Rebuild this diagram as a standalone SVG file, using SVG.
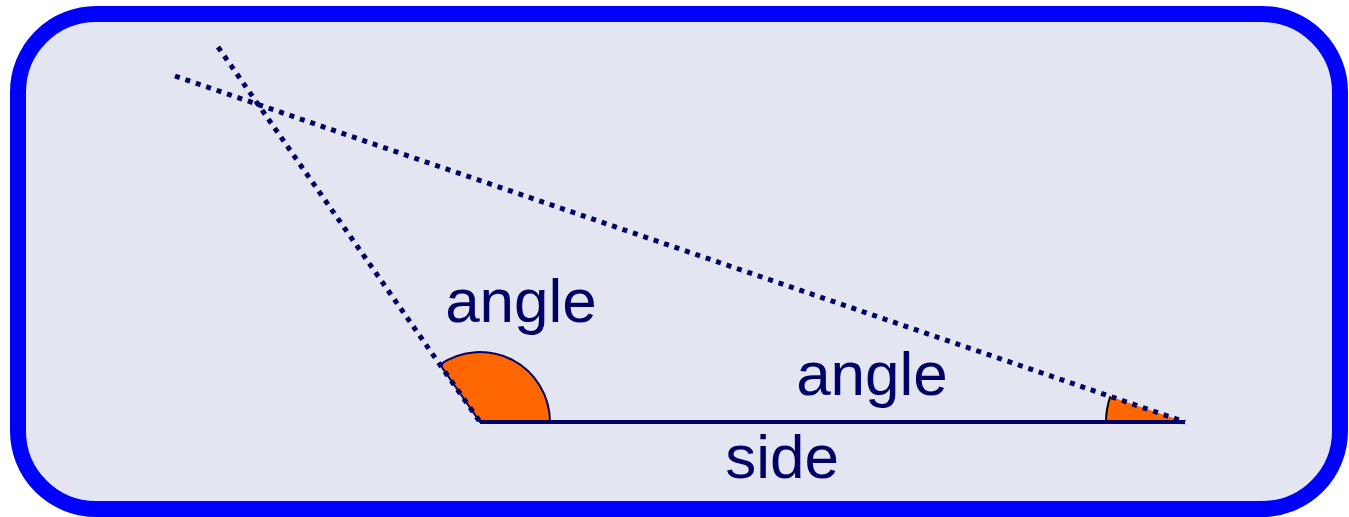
<svg xmlns="http://www.w3.org/2000/svg" width="1349" height="517" viewBox="0 0 1349 517">
  <style>
    .lbl { font-family: "Liberation Sans", Arial, sans-serif; font-size: 62px; fill: #000066; text-anchor: middle; }
    .dot { stroke: #000066; stroke-width: 5; stroke-dasharray: 5 6; fill: none; }
    .wedge { fill: #ff6600; }
  </style>
  <rect width="1349" height="517" fill="#ffffff"/>
  <g id="frame">
    <rect x="18" y="14" width="1322" height="495" rx="78" ry="78" fill="#e3e6f0" stroke="#0000ff" stroke-width="16"/>
  </g>
  <g id="angle-left">
    <path class="wedge" d="M480,422 L440,364.6 A70,70 0 0 1 550,422 Z" stroke="#000066" stroke-width="2"/>
  </g>
  <g id="angle-right">
    <path class="wedge" d="M1185,422 L1110.3,396.4 A79,79 0 0 0 1106,422 Z"/>
    <path d="M1110.3,396.4 A79,79 0 0 0 1106,422" fill="none" stroke="#000000" stroke-width="2"/>
  </g>
  <g id="connectors">
    <line class="dot" x1="175" y1="76" x2="1185" y2="422"/>
    <line class="dot" x1="218" y1="47" x2="480" y2="422"/>
    <line x1="480" y1="422" x2="1185" y2="422" stroke="#000066" stroke-width="4"/>
  </g>
  <g id="labels">
    <text class="lbl" x="521" y="322">angle</text>
    <text class="lbl" x="872" y="395">angle</text>
    <text class="lbl" x="782" y="478">side</text>
  </g>
</svg>
